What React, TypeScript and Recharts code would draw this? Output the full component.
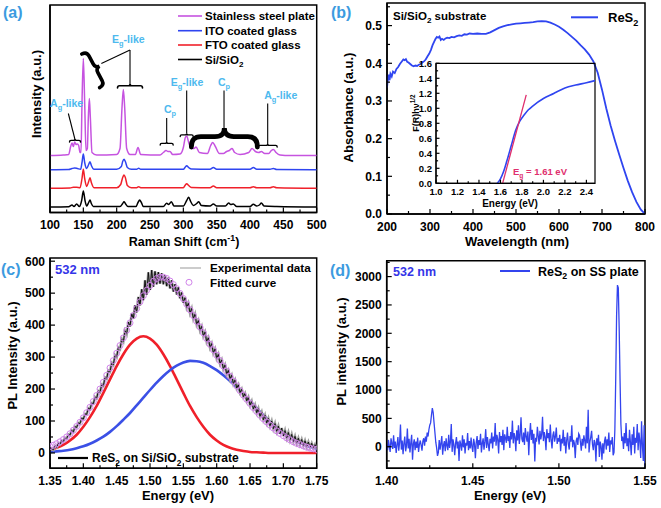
import { LineChart, Line, XAxis, YAxis, ReferenceArea, ReferenceLine, ReferenceDot } from "recharts"

const FONT = "'Liberation Sans', Arial, Helvetica, sans-serif"
const PANEL_BLUE = "#3c9be0"
const NOTE_BLUE = "#4db9ee"
const VIOLET = "#c653e0"
const BLUE = "#2f45f0"
const RED = "#f0202a"
const PINK = "#d184ea"
const TANGENT = "#e0306e"

// ---------- (a) Raman spectra (shift cm-1, stacked intensity) ----------
const ramanTicks = [100, 125, 150, 175, 200, 225, 250, 275, 300, 325, 350, 375, 400, 425, 450, 475, 500]
const ramanMajor = [100, 150, 200, 250, 300, 350, 400, 450, 500]

const ssPlate = [
  [100, 57], [120, 57.5], [128, 58], [131, 66], [133, 69.5], [135, 66], [137, 70.5], [139, 68], [141, 68.5],
  [143, 67], [145, 60], [146.5, 60], [148, 110], [150, 154], [152, 110], [154, 62], [156, 64], [157.5, 95],
  [159, 114], [160.5, 95], [163, 60], [170, 57.5], [200, 58], [205, 64], [208, 105], [210, 123], [212, 105],
  [215, 64], [220, 58], [228, 58], [232, 65], [236, 58], [265, 57.5], [270, 60], [274, 62], [277, 61],
  [280, 61], [284, 58], [295, 58.5], [300, 65], [303, 75], [305, 76.5], [308, 70], [312, 64], [316, 64],
  [319, 65.5], [324, 60], [336, 59], [341, 67], [344, 70], [348, 66], [354, 59], [360, 59], [365, 61],
  [369, 62], [373, 64], [377, 60], [385, 58], [398, 60], [403, 64], [408, 61], [413, 60], [417, 61],
  [422, 59], [428, 59], [432, 62], [435, 63], [439, 60], [445, 57.5], [460, 57], [500, 57],
]
const itoGlass = [
  [100, 42.8], [128, 43], [133, 44], [137, 44.5], [141, 44], [146, 43.2], [148, 50], [150, 58.5], [152, 50],
  [155, 44], [158, 48], [160, 50.8], [162, 47], [166, 43.2], [200, 43.2], [207, 46], [209, 51], [211, 53.2],
  [213, 51], [216, 45], [222, 43.2], [230, 43.2], [233, 44.3], [236, 43.2], [300, 43.2], [303, 45.5],
  [305, 46.8], [308, 45], [312, 43.5], [340, 43.3], [345, 45], [350, 43.3], [400, 43.3], [405, 45],
  [410, 43.3], [430, 43.3], [435, 44], [440, 43], [500, 42.8],
]
const ftoGlass = [
  [100, 24.2], [130, 24.5], [135, 25.2], [140, 25.2], [145, 24.8], [148, 34], [150, 43.2], [152, 34],
  [155, 26], [158, 31], [160, 34.8], [162, 30], [166, 24.8], [200, 24.8], [206, 28], [209, 35], [211, 37.5],
  [213, 35], [216, 27], [222, 24.8], [230, 24.8], [233, 25.8], [236, 24.8], [300, 24.8], [303, 27.5],
  [305, 28.8], [308, 27], [312, 25], [340, 24.8], [345, 26.5], [350, 24.8], [400, 24.8], [405, 25.8],
  [410, 24.8], [430, 24.8], [435, 25.8], [440, 24.8], [500, 24.2],
]
const siSiO2 = [
  [100, 5.5], [128, 5.8], [133, 7.5], [136, 6], [140, 8.5], [144, 6], [147.5, 12], [150, 21.5], [152.5, 12],
  [155, 6.5], [158, 10], [160, 12.5], [162, 9], [165, 6], [205, 6], [209, 9], [211, 10.8], [213, 9], [217, 6],
  [229, 6], [232, 10], [234.5, 12.5], [237, 10], [240, 6], [270, 6], [275, 9.2], [278, 8], [282, 10.8],
  [286, 6.5], [300, 6.5], [305, 12], [308, 15.2], [311, 11], [315, 7], [320, 9], [323, 10.8], [327, 7],
  [340, 6.5], [345, 8.5], [350, 6.5], [363, 6.5], [368, 9.5], [371, 8], [375, 8.5], [380, 6], [400, 6],
  [405, 8.2], [410, 6.5], [414, 7.5], [417, 9.5], [421, 6.5], [440, 6], [500, 5.5],
]

// ---------- (b) absorbance ----------
const wavelength = [
  200, 202, 204, 206, 208, 211, 214, 218, 222, 226, 230, 234, 238, 241, 244, 247, 250, 254, 258, 262, 266,
  270, 274, 278, 282, 286, 290, 294, 298, 302, 306, 310, 313, 316, 319, 322, 325, 328, 332, 336, 340, 345,
  350, 356, 362, 368, 374, 380, 386, 392, 400, 410, 420, 430, 440, 450, 460, 470, 480, 490, 500, 510, 520,
  530, 540, 550, 560, 570, 580, 590, 600, 610, 620, 630, 640, 650, 660, 670, 680, 690, 700, 710, 720, 730,
  740, 750, 760, 770, 780, 790, 800,
]
const absorbance = [
  0.335, 0.36, 0.37, 0.355, 0.372, 0.365, 0.378, 0.374, 0.385, 0.39, 0.398, 0.404, 0.41, 0.408, 0.411, 0.404,
  0.402, 0.398, 0.394, 0.392, 0.394, 0.393, 0.396, 0.398, 0.402, 0.405, 0.41, 0.418, 0.425, 0.435, 0.448,
  0.458, 0.465, 0.47, 0.468, 0.471, 0.462, 0.465, 0.462, 0.466, 0.468, 0.467, 0.47, 0.469, 0.472, 0.474,
  0.473, 0.477, 0.476, 0.479, 0.478, 0.479, 0.478, 0.478, 0.482, 0.488, 0.494, 0.498, 0.501, 0.503, 0.505,
  0.506, 0.507, 0.508, 0.509, 0.511, 0.512, 0.511, 0.508, 0.503, 0.497, 0.489, 0.48, 0.47, 0.46, 0.448,
  0.437, 0.423, 0.405, 0.375, 0.33, 0.28, 0.235, 0.195, 0.158, 0.122, 0.088, 0.058, 0.032, 0.012, 0,
]
const bTicks = [200, 250, 300, 350, 400, 450, 500, 550, 600, 650, 700, 750, 800]
const bMajor = [200, 300, 400, 500, 600, 700, 800]
const bYTicks = [0, 0.05, 0.1, 0.15, 0.2, 0.25, 0.3, 0.35, 0.4, 0.45, 0.5, 0.55]
const bYMajor = [0, 0.1, 0.2, 0.3, 0.4, 0.5]

// inset: Tauc plot
const taucEnergy = [1.57, 1.6, 1.63, 1.66, 1.7, 1.74, 1.78, 1.82, 1.86, 1.9, 2.0, 2.1, 2.14, 2.2, 2.3, 2.4, 2.48]
const taucValue = [0, 0.06, 0.16, 0.3, 0.5, 0.7, 0.83, 0.91, 0.98, 1.03, 1.13, 1.2, 1.23, 1.27, 1.31, 1.34, 1.37]
const tangentLine = [[1.62, 0], [1.84, 1.18]]
const insetXTicks = [1.0, 1.1, 1.2, 1.3, 1.4, 1.5, 1.6, 1.7, 1.8, 1.9, 2.0, 2.1, 2.2, 2.3, 2.4]
const insetXMajor = [1.0, 1.2, 1.4, 1.6, 1.8, 2.0, 2.2, 2.4]
const insetYTicks = [0, 0.1, 0.2, 0.3, 0.4, 0.5, 0.6, 0.7, 0.8, 0.9, 1.0, 1.1, 1.2, 1.3, 1.4, 1.5, 1.6]
const insetYMajor = [0, 0.2, 0.4, 0.6, 0.8, 1.0, 1.2, 1.4, 1.6]

// ---------- (c) PL on Si/SiO2 ----------
const expData = [
  8, 14, 10, 22, 18, 30, 27, 38, 36, 47, 45, 58, 56, 70, 66, 82, 80, 94, 92, 108,
  106, 122, 121, 140, 137, 156, 154, 175, 171, 194, 190, 214, 210, 236, 232, 258, 254, 282, 276, 306,
  300, 330, 325, 356, 348, 382, 372, 410, 396, 436, 420, 462, 440, 488, 462, 512, 478, 540, 495, 565,
  510, 572, 520, 568, 528, 566, 530, 562, 528, 556, 522, 548, 515, 540, 505, 528, 496, 518, 484, 502,
  470, 486, 455, 468, 438, 452, 420, 434, 402, 414, 384, 396, 366, 378, 348, 360, 330, 342, 313, 325,
  296, 308, 280, 291, 263, 275, 247, 258, 232, 243, 217, 228, 203, 213, 189, 199, 176, 186, 163, 174,
  150, 162, 138, 150, 126, 139, 115, 128, 104, 118, 94, 108, 85, 100, 76, 92, 68, 84, 60, 78,
  53, 70, 47, 64, 41, 58, 36, 52, 31, 46, 27, 42, 23, 38, 20, 34, 17, 30, 15, 26, 12,
]
const fittedCurve = [
  20, 24, 29, 35, 42, 50, 60, 71, 83, 96, 110, 126, 143, 161, 180, 200, 221, 243, 266, 289,
  312, 336, 360, 384, 407, 430, 452, 473, 492, 509, 524, 537, 546, 550, 550, 546, 538, 527, 514, 499,
  483, 466, 448, 430, 412, 394, 376, 358, 340, 323, 306, 289, 272, 256, 240, 225, 210, 195, 181, 168,
  155, 142, 130, 118, 107, 97, 87, 78, 69, 61, 54, 47, 41, 35, 30, 26, 22, 18, 15, 13, 11,
]
const peakLow = [
  10, 16, 25, 39, 57, 82, 112, 147, 188, 230, 272, 309, 339, 358, 365, 358, 339, 309, 272, 230,
  188, 147, 112, 82, 57, 39, 25, 16, 10, 6, 3, 2, 1, 0, 0, 0, 0, 0, 0, 0, 0,
]
const peakHigh = [
  3, 5, 7, 10, 15, 21, 29, 39, 51, 66, 84, 104, 125, 149, 173, 197, 220, 241, 259, 273,
  283, 288, 287, 282, 272, 259, 243, 225, 205, 184, 162, 140, 118, 98, 80, 63, 49, 37, 27, 19, 13,
]
const cXTicks = [1.35, 1.375, 1.4, 1.425, 1.45, 1.475, 1.5, 1.525, 1.55, 1.575, 1.6, 1.625, 1.65, 1.675, 1.7, 1.725, 1.75]
const cXMajor = [1.35, 1.4, 1.45, 1.5, 1.55, 1.6, 1.65, 1.7, 1.75]
const cYTicks = [0, 50, 100, 150, 200, 250, 300, 350, 400, 450, 500, 550, 600]
const cYMajor = [0, 100, 200, 300, 400, 500, 600]

// ---------- (d) PL on SS plate ----------
const ssPL = [
  40, -60, 120, 10, -90, 150, 60, -40, 200, -20, 90, -110, 30, 170, -70, 80, 390, -50, 110, -130,
  60, 180, -80, 20, 320, -30, 140, -100, 70, 210, -230, 50, 130, -60, 90, -20, 160, -90, 40, 110,
  30, -70, 100, 150, 20, 180, 90, 250, 180, 300, 380, 420, 560, 680, 600, 420, 250, 80, -20, -160,
  -100, 120, -50, 60, 190, -140, 30, 100, -80, 150, 20, -60, 210, -20, 80, 400, -90, 130, 40, -150,
  60, 170, -30, 90, -250, 110, 40, -70, 200, -10, 130, -120, 70, 20, 240, -60, 100, -30, 160, 0,
  -90, 140, 50, -200, 80, 190, -40, 120, 30, 230, -100, 60, 150, -50, 90, 310, -20, 170, 40, -80,
  140, 60, 250, -30, 180, 90, 420, 20, 210, 130, -120, 260, 80, 190, 30, 300, -60, 220, 150, 70,
  350, 100, 190, -20, 260, 130, 460, 60, 240, 170, -80, 290, 110, 380, 50, 210, 520, 140, 80, 250,
  30, 330, 180, 90, 270, -150, 200, 420, 120, 300, 60, 230, -260, 160, 90, 350, 190, 40, 280, 130,
  220, 530, 100, 260, 170, -60, 310, 150, 240, 80, 390, 120, -30, 200, 270, 90, 180, 340, 50, 150,
  90, 210, -80, 140, 60, 300, 20, 170, -120, 110, 250, 40, -50, 190, 90, 380, -10, 120, 60, -200,
  100, 160, 30, 230, 200, 80, -70, 140, 20, 200, 110, -30, 350, 60, 650, -100, 90, 170, 280, 40,
  -60, 120, 70, -260, 150, 30, 210, -180, 90, 10, -230, 60, -120, 100, 180, -50, 130, 20, 250, -90,
  110, 40, 170, -150, -100, 300, 1200, 2300, 2850, 2800, 2100, 1200, 400, 100, 180, -40, 240, 60, 420, 10,
  150, -80, 300, 90, -150, 220, 30, 350, -120, 160, 70, 400, -60, 250, 100, -200, 450, 20, -250, 380, -350,
]
const dXTicks = [1.4, 1.425, 1.45, 1.475, 1.5, 1.525, 1.55]
const dXMajor = [1.4, 1.45, 1.5, 1.55]
const dYTicks = [-250, 0, 250, 500, 750, 1000, 1250, 1500, 1750, 2000, 2250, 2500, 2750, 3000, 3250]
const dYMajor = [0, 500, 1000, 1500, 2000, 2500, 3000]

// ---------- helpers ----------
const pairs = (pts: number[][]) => pts.map(([x, y]) => ({ x, y }))
const zip = (xs: number[], ys: number[]) => xs.map((x, i) => ({ x, y: ys[i] }))
const spread = (ys: number[], start: number, end: number) =>
  ys.map((y, i) => ({ x: start + (i * (end - start)) / (ys.length - 1), y }))
const near = (list: number[], v: number) => list.some((m) => Math.abs(m - v) < 1e-6)
const axisStyle = { stroke: "#000", strokeWidth: 1.5 }

function BottomTick(props: any) {
  const { x, y, payload, major, digits, labelSize = 12, labelDy = 16.5, len = 5 } = props
  const isMajor = near(major, payload.value)
  return (
    <g>
      <line x1={x} x2={x} y1={y} y2={y - (isMajor ? len : len * 0.6)} stroke="#000" strokeWidth={1.2} />
      {isMajor && (
        <text x={x} y={y + labelDy} textAnchor="middle" fontFamily={FONT} fontWeight="bold" fontSize={labelSize} fill="#000">
          {Number(payload.value).toFixed(digits)}
        </text>
      )}
    </g>
  )
}

function LeftTick(props: any) {
  const { x, y, payload, major, digits, labelSize = 12, labelDx = 5, len = 5 } = props
  const isMajor = near(major, payload.value)
  return (
    <g>
      <line x1={x} x2={x + (isMajor ? len : len * 0.6)} y1={y} y2={y} stroke="#000" strokeWidth={1.2} />
      {isMajor && (
        <text x={x - labelDx} y={y} dy="0.36em" textAnchor="end" fontFamily={FONT} fontWeight="bold" fontSize={labelSize} fill="#000">
          {Number(payload.value).toFixed(digits)}
        </text>
      )}
    </g>
  )
}

function Rich({ parts, size, ...rest }: any) {
  let shift = 0
  return (
    <text fontFamily={FONT} fontWeight="bold" fontSize={size} {...rest}>
      {parts.map(([t, k]: [string, string], i: number) => {
        const target = k === "sub" ? size * 0.3 : k === "sup" ? -size * 0.4 : 0
        const dy = target - shift
        shift = target
        return (
          <tspan key={i} dy={dy} fontSize={k === "n" ? size : size * 0.7}>
            {t}
          </tspan>
        )
      })}
    </text>
  )
}

// curly brace pointing "up" from its base, then rotated
function Brace({ cx, cy, w, h, angle = 0, sw = 1.4 }: any) {
  const r = Math.min(h * 0.5, w * 0.45)
  const m = -h * 0.55
  const d = `M ${-w},0 Q ${-w},${m} ${-w + r},${m} L ${-r},${m} Q 0,${m} 0,${-h} Q 0,${m} ${r},${m} L ${w - r},${m} Q ${w},${m} ${w},0`
  return <path d={d} transform={`translate(${cx},${cy}) rotate(${angle})`} fill="none" stroke="#000" strokeWidth={sw} strokeLinecap="round" />
}

const noteLabel = (main: string, sub: string, rest: string) => (p: any) => (
  <Rich x={p.cx} y={p.cy} dy={4} textAnchor="middle" size={10.5} fill={NOTE_BLUE} parts={[[main, "n"], [sub, "sub"], [rest, "n"]]} />
)

const leader = { stroke: "#000", strokeWidth: 1.1 }

export default function App() {
  return (
    <div style={{ position: "absolute", left: 0, top: 0, width: 661, height: 508, background: "#fff" }}>
      {/* (a) */}
      <div style={{ position: "absolute", left: 0, top: 0 }}>
        <LineChart width={330} height={254} margin={{ top: 5, right: 13.3, bottom: 0, left: 0 }}>
          <XAxis type="number" dataKey="x" domain={[100, 500]} ticks={ramanTicks} interval={0} allowDataOverflow
            height={41.5} tickSize={0} tickMargin={0} tickLine={false} axisLine={axisStyle}
            tick={<BottomTick major={ramanMajor} digits={0} />} />
          <YAxis type="number" domain={[0, 207.5]} width={50} tick={false} tickLine={false} axisLine={axisStyle} allowDataOverflow />
          <ReferenceArea x1={100} x2={500} y1={0} y2={207.5} fill="none" stroke="#000" strokeWidth={1.5} />
          <Line data={pairs(siSiO2)} dataKey="y" type="monotone" stroke="#000" strokeWidth={1.5} dot={false} isAnimationActive={false} />
          <Line data={pairs(ftoGlass)} dataKey="y" type="monotone" stroke={RED} strokeWidth={1.5} dot={false} isAnimationActive={false} />
          <Line data={pairs(itoGlass)} dataKey="y" type="monotone" stroke={BLUE} strokeWidth={1.5} dot={false} isAnimationActive={false} />
          <Line data={pairs(ssPlate)} dataKey="y" type="monotone" stroke={VIOLET} strokeWidth={1.5} dot={false} isAnimationActive={false} />

          {/* A_g-like (left) */}
          <ReferenceLine segment={[{ x: 127.5, y: 99 }, { x: 137.5, y: 73 }]} {...leader} />
          <ReferenceDot x={137.5} y={70.5} shape={(p: any) => <Brace cx={p.cx} cy={p.cy} w={5.5} h={3} />} />
          <ReferenceDot x={125} y={106} shape={noteLabel("A", "g", "-like")} />
          {/* E_g-like (210) with big tilted brace */}
          <ReferenceDot x={161} y={141.7} shape={(p: any) => <Brace cx={p.cx} cy={p.cy} w={19} h={10} angle={62} sw={3.6} />} />
          <ReferenceLine segment={[{ x: 177, y: 149 }, { x: 220, y: 162.5 }]} {...leader} />
          <ReferenceLine segment={[{ x: 220, y: 162.5 }, { x: 220, y: 128.5 }]} {...leader} />
          <ReferenceDot x={220} y={124.5} shape={(p: any) => <Brace cx={p.cx} cy={p.cy} w={12.5} h={4} sw={1.6} />} />
          <ReferenceDot x={217.5} y={170} shape={noteLabel("E", "g", "-like")} />
          {/* C_p (275) */}
          <ReferenceLine segment={[{ x: 275, y: 94.5 }, { x: 275, y: 70.5 }]} {...leader} />
          <ReferenceDot x={275} y={67.5} shape={(p: any) => <Brace cx={p.cx} cy={p.cy} w={6.5} h={3} />} />
          <ReferenceDot x={280} y={99.5} shape={noteLabel("C", "p", "")} />
          {/* E_g-like (305) */}
          <ReferenceLine segment={[{ x: 305, y: 122 }, { x: 305, y: 79 }]} {...leader} />
          <ReferenceDot x={305} y={76} shape={(p: any) => <Brace cx={p.cx} cy={p.cy} w={6.5} h={3} />} />
          <ReferenceDot x={305.5} y={126.5} shape={noteLabel("E", "g", "-like")} />
          {/* C_p (big brace) */}
          <ReferenceLine segment={[{ x: 361, y: 122 }, { x: 361, y: 84.5 }]} {...leader} />
          <ReferenceDot x={361.5} y={65.5} shape={(p: any) => <Brace cx={p.cx} cy={p.cy} w={33} h={19} sw={4.8} />} />
          <ReferenceDot x={361} y={126.5} shape={noteLabel("C", "p", "")} />
          {/* A_g-like (right) */}
          <ReferenceLine segment={[{ x: 426.5, y: 109 }, { x: 426.5, y: 68.5 }]} {...leader} />
          <ReferenceDot x={426.5} y={65.5} shape={(p: any) => <Brace cx={p.cx} cy={p.cy} w={9.5} h={3} />} />
          <ReferenceDot x={446} y={113.5} shape={noteLabel("A", "g", "-like")} />
        </LineChart>
      </div>

      {/* (b) */}
      <div style={{ position: "absolute", left: 330, top: 0 }}>
        <LineChart width={331} height={254} margin={{ top: 3, right: 16, bottom: 0, left: 0 }}>
          <XAxis type="number" dataKey="x" domain={[200, 800]} ticks={bTicks} interval={0} allowDataOverflow
            height={40} tickSize={0} tickMargin={0} tickLine={false} axisLine={axisStyle}
            tick={<BottomTick major={bMajor} digits={0} />} />
          <YAxis type="number" domain={[0, 0.56]} ticks={bYTicks} interval={0} width={57} allowDataOverflow
            tickSize={0} tickMargin={0} tickLine={false} axisLine={axisStyle}
            tick={<LeftTick major={bYMajor} digits={1} />} />
          <ReferenceArea x1={200} x2={800} y1={0} y2={0.56} fill="none" stroke="#000" strokeWidth={1.5} />
          <Line data={zip(wavelength, absorbance)} dataKey="y" type="linear" stroke={BLUE} strokeWidth={1.8} dot={false} isAnimationActive={false} />
        </LineChart>
      </div>

      {/* (b) inset */}
      <div style={{ position: "absolute", left: 395, top: 55 }}>
        <LineChart width={205} height={160} margin={{ top: 8.3, right: 5, bottom: 0, left: 0 }}>
          <XAxis type="number" dataKey="x" domain={[1.0, 2.48]} ticks={insetXTicks} interval={0} allowDataOverflow
            height={31.7} tickSize={0} tickMargin={0} tickLine={false} axisLine={{ stroke: "#000", strokeWidth: 1.2 }}
            tick={<BottomTick major={insetXMajor} digits={1} labelSize={9.5} labelDy={11.5} len={3.5} />} />
          <YAxis type="number" domain={[0, 1.6]} ticks={insetYTicks} interval={0} width={41} allowDataOverflow
            tickSize={0} tickMargin={0} tickLine={false} axisLine={{ stroke: "#000", strokeWidth: 1.2 }}
            tick={<LeftTick major={insetYMajor} digits={1} labelSize={9.5} labelDx={4} len={3.5} />} />
          <ReferenceArea x1={1.0} x2={2.48} y1={0} y2={1.6} fill="none" stroke="#000" strokeWidth={1.2} />
          <Line data={zip(taucEnergy, taucValue)} dataKey="y" type="monotone" stroke={BLUE} strokeWidth={1.6} dot={false} isAnimationActive={false} />
          <Line data={pairs(tangentLine)} dataKey="y" type="linear" stroke={TANGENT} strokeWidth={1.3} dot={false} isAnimationActive={false} />
        </LineChart>
      </div>

      {/* (c) */}
      <div style={{ position: "absolute", left: 0, top: 254 }}>
        <LineChart width={330} height={254} margin={{ top: 4, right: 13.3, bottom: 0, left: 0 }}>
          <XAxis type="number" dataKey="x" domain={[1.35, 1.75]} ticks={cXTicks} interval={0} allowDataOverflow
            height={39.7} tickSize={0} tickMargin={0} tickLine={false} axisLine={axisStyle}
            tick={<BottomTick major={cXMajor} digits={2} />} />
          <YAxis type="number" domain={[-48, 610]} ticks={cYTicks} interval={0} width={50} allowDataOverflow
            tickSize={0} tickMargin={0} tickLine={false} axisLine={axisStyle}
            tick={<LeftTick major={cYMajor} digits={0} />} />
          <ReferenceArea x1={1.35} x2={1.75} y1={-48} y2={610} fill="none" stroke="#000" strokeWidth={1.5} />
          <Line data={spread(peakLow, 1.35, 1.75)} dataKey="y" type="monotone" stroke={RED} strokeWidth={2.6} dot={false} isAnimationActive={false} />
          <Line data={spread(peakHigh, 1.35, 1.75)} dataKey="y" type="monotone" stroke="#3b50e6" strokeWidth={2.6} dot={false} isAnimationActive={false} />
          <Line data={spread(expData, 1.35, 1.75)} dataKey="y" type="linear" stroke="#a0a0a0" strokeWidth={2.6} dot={false} isAnimationActive={false} />
          <Line data={spread(expData, 1.35, 1.75)} dataKey="y" type="linear" stroke="#111" strokeWidth={1} dot={false} isAnimationActive={false} />
          <Line data={spread(fittedCurve, 1.35, 1.75)} dataKey="y" type="linear" stroke="none"
            dot={{ r: 3, stroke: PINK, strokeWidth: 1, fill: "none" }} isAnimationActive={false} />
        </LineChart>
      </div>

      {/* (d) */}
      <div style={{ position: "absolute", left: 330, top: 254 }}>
        <LineChart width={331} height={254} margin={{ top: 6.7, right: 16, bottom: 0, left: 0 }}>
          <XAxis type="number" dataKey="x" domain={[1.4, 1.55]} ticks={dXTicks} interval={0} allowDataOverflow
            height={39.7} tickSize={0} tickMargin={0} tickLine={false} axisLine={axisStyle}
            tick={<BottomTick major={dXMajor} digits={2} />} />
          <YAxis type="number" domain={[-380, 3280]} ticks={dYTicks} interval={0} width={56.7} allowDataOverflow
            tickSize={0} tickMargin={0} tickLine={false} axisLine={axisStyle}
            tick={<LeftTick major={dYMajor} digits={0} />} />
          <ReferenceArea x1={1.4} x2={1.55} y1={-380} y2={3280} fill="none" stroke="#000" strokeWidth={1.5} />
          <Line data={spread(ssPL, 1.4, 1.55)} dataKey="y" type="linear" stroke="#3344ee" strokeWidth={1.3} dot={false} isAnimationActive={false} />
        </LineChart>
      </div>

      {/* titles, panel letters and legends */}
      <svg width={661} height={508} style={{ position: "absolute", left: 0, top: 0, pointerEvents: "none" }}>
        <g fontFamily={FONT} fontWeight="bold">
          <text x={3} y={18} fontSize={16} fill={PANEL_BLUE}>(a)</text>
          <text x={331} y={18} fontSize={16} fill={PANEL_BLUE}>(b)</text>
          <text x={1} y={275} fontSize={16} fill={PANEL_BLUE}>(c)</text>
          <text x={330} y={276} fontSize={16} fill={PANEL_BLUE}>(d)</text>
        </g>

        {/* (a) */}
        <text x={41} y={94} transform="rotate(-90 41 94)" textAnchor="middle" fontFamily={FONT} fontWeight="bold" fontSize={13}>Intensity (a.u.)</text>
        <Rich x={184} y={246} textAnchor="middle" size={12.5} parts={[["Raman Shift (cm", "n"], ["-1", "sup"], [")", "n"]]} />
        {[["Stainless steel plate", VIOLET, 16], ["ITO coated glass", BLUE, 30.7], ["FTO coated glass", RED, 45], ["Si/SiO", "#000", 59.5]].map(([t, c, y]: any) => (
          <g key={t}>
            <line x1={178} x2={202} y1={y} y2={y} stroke={c} strokeWidth={1.6} />
            {t === "Si/SiO" ? (
              <Rich x={205} y={y + 4} size={11.5} parts={[["Si/SiO", "n"], ["2", "sub"]]} />
            ) : (
              <text x={205} y={y + 4} fontFamily={FONT} fontWeight="bold" fontSize={11.5}>{t}</text>
            )}
          </g>
        ))}

        {/* (b) */}
        <text x={352.5} y={107.5} transform="rotate(-90 352.5 107.5)" textAnchor="middle" fontFamily={FONT} fontWeight="bold" fontSize={13}>Absorbance (a.u.)</text>
        <text x={517} y={246} textAnchor="middle" fontFamily={FONT} fontWeight="bold" fontSize={13}>Wavelength (nm)</text>
        <Rich x={393} y={20} size={11.5} parts={[["Si/SiO", "n"], ["2", "sub"], [" substrate", "n"]]} />
        <line x1={571} x2={598} y1={17.3} y2={17.3} stroke={BLUE} strokeWidth={2} />
        <Rich x={608} y={22} size={13} parts={[["ReS", "n"], ["2", "sub"]]} />
        <Rich x={419} y={113} transform="rotate(-90 419 113)" textAnchor="middle" size={9} parts={[["F(R)h\u03bd", "n"], ["1/2", "sup"]]} />
        <text x={510} y={207} textAnchor="middle" fontFamily={FONT} fontWeight="bold" fontSize={10}>Energy (eV)</text>
        <Rich x={513} y={175} size={9.5} fill={TANGENT} parts={[["E", "n"], ["g", "sub"], [" = 1.61 eV", "n"]]} />

        {/* (c) */}
        <text x={17} y={355.5} transform="rotate(-90 17 355.5)" textAnchor="middle" fontFamily={FONT} fontWeight="bold" fontSize={13}>PL Intensity (a.u.)</text>
        <text x={178} y={500} textAnchor="middle" fontFamily={FONT} fontWeight="bold" fontSize={13}>Energy (eV)</text>
        <text x={55} y={273.5} fontFamily={FONT} fontWeight="bold" fontSize={13} fill="#3535e8">532 nm</text>
        <line x1={180} x2={201} y1={268} y2={268} stroke="#aaa" strokeWidth={1.2} />
        <text x={210} y={272} fontFamily={FONT} fontWeight="bold" fontSize={11.7}>Experimental data</text>
        <circle cx={189} cy={282.3} r={3} fill="none" stroke={PINK} strokeWidth={1} />
        <text x={210} y={286.5} fontFamily={FONT} fontWeight="bold" fontSize={11.7}>Fitted curve</text>
        <line x1={58} x2={88} y1={458} y2={458} stroke="#000" strokeWidth={2.2} />
        <Rich x={92} y={462} size={12} parts={[["ReS", "n"], ["2", "sub"], [" on Si/SiO", "n"], ["2", "sub"], [" substrate", "n"]]} />

        {/* (d) */}
        <text x={346} y={351.5} transform="rotate(-90 346 351.5)" textAnchor="middle" fontFamily={FONT} fontWeight="bold" fontSize={13}>PL intensity (a.u.)</text>
        <text x={510} y={500} textAnchor="middle" fontFamily={FONT} fontWeight="bold" fontSize={13}>Energy (eV)</text>
        <text x={393} y={275.5} fontFamily={FONT} fontWeight="bold" fontSize={12.5} fill="#3535e8">532 nm</text>
        <line x1={500} x2={530} y1={271} y2={271} stroke="#3344ee" strokeWidth={2} />
        <Rich x={538} y={275.5} size={12.5} parts={[["ReS", "n"], ["2", "sub"], [" on SS plate", "n"]]} />
      </svg>
    </div>
  )
}
